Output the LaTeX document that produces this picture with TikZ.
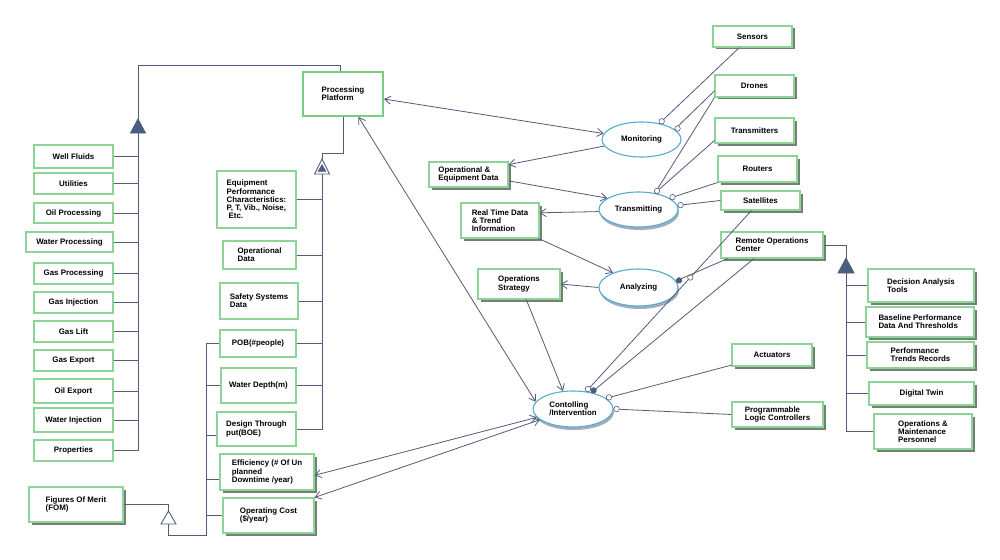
\documentclass[tikz,border=0pt]{standalone}
\usepackage{fontspec}
\setmainfont{Liberation Sans}
\usetikzlibrary{shapes.geometric,shadows,arrows.meta,calc}
\definecolor{linec}{RGB}{82,92,122}
\definecolor{boxg}{RGB}{140,212,152}
\definecolor{ppg}{RGB}{118,206,128}
\definecolor{elc}{RGB}{85,172,205}
\definecolor{shc}{RGB}{100,116,102}
\definecolor{tric}{RGB}{74,94,130}
\definecolor{elsh}{RGB}{140,152,170}
\tikzset{
  ln/.style={draw=linec, line width=0.8pt},
  bx/.style={rectangle, draw=boxg, line width=1.1pt, fill=white, inner sep=1.5pt, align=left},
  bxs/.style={bx, drop shadow={shadow xshift=2.5pt, shadow yshift=-2.5pt, fill=shc, opacity=0.9}},
  el/.style={ellipse, draw=elc, line width=1.1pt, fill=white, inner sep=0pt, align=left},
  els/.style={el, drop shadow={shadow xshift=1pt, shadow yshift=-3pt, fill=elsh, opacity=0.8}},
  ocirc/.style={circle, draw=linec, fill=white, minimum size=5.5pt, inner sep=0pt, line width=0.6pt},
  fcirc/.style={circle, draw=linec, fill=tric, minimum size=5.5pt, inner sep=0pt, line width=0.6pt},
  arr/.style={ln, -{Straight Barb[length=6pt,width=8pt]}},
  darr/.style={ln, {Straight Barb[length=6pt,width=8pt]}-{Straight Barb[length=6pt,width=8pt]}},
  tri/.style={draw=linec, line width=0.8pt, fill=tric},
  trio/.style={draw=linec, line width=0.9pt, fill=white},
}
\begin{document}
\begin{tikzpicture}[x=1pt,y=-1pt, font=\fontsize{7.9}{8.2}\selectfont\bfseries]
\useasboundingbox[fill=white] (0,0) rectangle (1000,559);

% ---- left column (parts of Processing Platform)
\node[bx, minimum width=79pt, minimum height=23pt] (wf) at (73.5,156.5) {Well Fluids};
\node[bx, minimum width=79pt, minimum height=21pt] (ut) at (73.5,183.5) {Utilities};
\node[bx, minimum width=79pt, minimum height=20pt] (op) at (73.5,213) {Oil Processing};
\node[bx, minimum width=87pt, minimum height=20pt] (wp) at (69.5,242) {Water Processing};
\node[bx, minimum width=79pt, minimum height=21pt] (gp) at (73.5,273.5) {Gas Processing};
\node[bx, minimum width=79pt, minimum height=21pt] (gi) at (73.5,302.5) {Gas Injection};
\node[bx, minimum width=79pt, minimum height=21pt] (gl) at (73.5,331.5) {Gas Lift};
\node[bx, minimum width=79pt, minimum height=21pt] (ge) at (73.5,360.5) {Gas Export};
\node[bx, minimum width=79pt, minimum height=24pt] (oe) at (73.5,391) {Oil Export};
\node[bx, minimum width=79pt, minimum height=24pt] (wi) at (73.5,420) {Water Injection};
\node[bx, minimum width=79pt, minimum height=21pt] (pr) at (73.5,450.5) {Properties};

% ---- processing platform
\node[bx, draw=ppg, line width=2pt, minimum width=80pt, minimum height=44pt] (pp) at (343,94) {Processing\\Platform};

% ---- middle column (attributes)
\node[bx, minimum width=79pt, minimum height=57pt] (epc) at (256.5,199.5) {Equipment\\Performance\\Characteristics:\\P, T, Vib., Noise,\\\hspace{2pt}Etc.};
\node[bx, minimum width=73pt, minimum height=28pt] (od) at (259.5,255) {Operational\\Data};
\node[bx, minimum width=78pt, minimum height=36pt] (ssd) at (259,301) {Safety Systems\\Data};
\node[bx, minimum width=76pt, minimum height=27pt] (pob) at (258,343.5) {POB(\#people)};
\node[bx, minimum width=75pt, minimum height=35pt] (wd) at (258.5,385.5) {Water Depth(m)};
\node[bx, minimum width=79pt, minimum height=34pt] (dt) at (256.5,429) {Design Through\\put(BOE)};
\node[bxs, minimum width=94pt, minimum height=36pt] (eff) at (267,472) {Efficiency (\# Of Un\\planned\\Downtime /year)};
\node[bxs, minimum width=91pt, minimum height=35pt] (oc) at (268.5,515.5) {Operating Cost\\(\$/year)};
\node[bxs, minimum width=94pt, minimum height=35pt] (fom) at (76,504.5) {Figures Of Merit\\(FOM)};

% ---- objects in the flow
\node[bxs, minimum width=79pt, minimum height=25pt] (oed) at (468.5,174.5) {Operational \&\\Equipment Data};
\node[bxs, minimum width=78pt, minimum height=35pt] (rtd) at (500,220.5) {Real Time Data\\\& Trend\\Information};
\node[bxs, minimum width=82pt, minimum height=30pt] (os) at (519,284) {Operations\\Strategy};

% ---- processes
\node[el, minimum width=79pt, minimum height=35pt] (mon) at (641.5,139.5) {Monitoring};
\node[els, minimum width=79pt, minimum height=35pt] (tra) at (638.5,209.5) {Transmitting};
\node[els, minimum width=79pt, minimum height=37pt] (ana) at (638.5,287.5) {Analyzing};
\node[els, minimum width=80pt, minimum height=36pt] (con) at (573,409) {Contolling\\/Intervention};

% ---- right column
\node[bxs, minimum width=79pt, minimum height=21pt] (sen) at (752.5,36.5) {Sensors};
\node[bxs, minimum width=79pt, minimum height=22pt] (dro) at (754.5,86) {Drones};
\node[bxs, minimum width=79pt, minimum height=25pt] (trm) at (754.5,130.5) {Transmitters};
\node[bxs, minimum width=79pt, minimum height=26pt] (rou) at (757.5,169) {Routers};
\node[bxs, minimum width=79pt, minimum height=19pt] (sat) at (760.5,200.5) {Satellites};
\node[bxs, minimum width=102pt, minimum height=26pt] (roc) at (772,245) {Remote Operations\\Center};
\node[bxs, minimum width=80pt, minimum height=22pt] (act) at (772,355) {Actuators};
\node[bxs, minimum width=91pt, minimum height=25pt] (plc) at (777.5,414.5) {Programmable\\Logic Controllers};
\node[bxs, minimum width=106pt, minimum height=33pt] (dat) at (921,285.5) {Decision Analysis\\Tools};
\node[bxs, minimum width=108pt, minimum height=30pt] (bpd) at (920,322) {Baseline Performance\\Data And Thresholds};
\node[bxs, minimum width=107pt, minimum height=26pt] (ptr) at (920.5,355) {Performance\\Trends Records};
\node[bxs, minimum width=105pt, minimum height=23pt] (dtw) at (921.5,393.5) {Digital Twin};
\node[bxs, minimum width=98pt, minimum height=35pt] (omp) at (923,431.5) {Operations \&\\Maintenance\\Personnel};

% ---- left aggregation tree
\coordinate (t1a) at (138,119);
\coordinate (t1b) at (138,133);
\draw[ln] ([xshift=-3pt]pp.north) -- ++(0,-6) -| (t1a);
\draw[ln] (t1b) -- (t1b |- pr.east) -- (pr.east);
\foreach \n in {wf,ut,op,wp,gp,gi,gl,ge,oe,wi} \draw[ln] (\n.east) -- (\n.east -| t1b);
\draw[tri] (t1a) -- (145.5,133) -- (130.5,133) -- cycle;

% ---- exhibition tree
\coordinate (t2a) at (322,159);
\coordinate (t2b) at (322,174);
\draw[ln] (pp.south) -- ++(0,36) -| (t2a);
\draw[ln] (t2b) -- (t2b |- dt.east) -- (dt.east);
\foreach \n in {epc,od,ssd,pob,wd} \draw[ln] (\n.east) -- (\n.east -| t2b);
\draw[trio] (t2a) -- (329.5,174) -- (314.5,174) -- cycle;
\draw[tri, line width=0.4pt] (322,164.5) -- (326,171.5) -- (318,171.5) -- cycle;

% ---- generalization tree
\coordinate (t3a) at (168.5,511);
\coordinate (t3b) at (168.5,524);
\coordinate (gb) at (206,535);
\draw[ln] (fom.east) -| (t3a);
\draw[ln] (t3b) |- (gb) -- (gb |- pob.west) -- (pob.west);
\draw[ln] (wd.west) -- (wd.west -| gb);
\draw[ln] ([yshift=-6pt]dt.west) -- ([yshift=-6pt]dt.west -| gb);
\draw[ln] ([yshift=-7pt]eff.west) -- ([yshift=-7pt]eff.west -| gb);
\draw[ln] (oc.west) -- (oc.west -| gb);
\draw[trio] (t3a) -- (176,524) -- (161,524) -- cycle;

% ---- right aggregation tree
\coordinate (t4a) at (846,258);
\coordinate (t4b) at (846,273);
\draw[ln] (roc.east) -| (t4a);
\draw[ln] (t4b) |- (omp.west);
\foreach \n in {dat,bpd,ptr,dtw} \draw[ln] (\n.west) -- (\n.west -| t4b);
\draw[tri] (t4a) -- (854,273) -- (838,273) -- cycle;

% ---- flow arrows
\draw[darr] (pp.-7) -- (mon.171);
\draw[darr] (pp.-56) -- (con.169);
\draw[darr] (eff.-4) -- (con.193);
\draw[darr] (oc.north east) -- (con.198);
\draw[arr] (mon.190) -- (oed.14);
\draw[arr] (oed.-9) -- (tra.160);
\draw[arr] (tra.183) -- (rtd.11);
\draw[arr] (rtd.-25) -- (ana.150);
\draw[arr] (ana.west) -- (os.east);
\draw[arr] (os.-65) -- (con.119);

% ---- instrument / agent links
\draw[ln] (sen.-140) -- (mon.42);
\draw[ln] (dro.-173) -- (mon.17);
\draw[ln] (dro.south west) -- (tra.45);
\draw[ln] (trm.-166) -- (tra.45);
\draw[ln] (rou.south west) -- (tra.20);
\draw[ln] (sat.west) -- (tra.6);
\draw[ln] (sat.-132) -- node[ocirc, pos=0.37] {} (con.53);
\draw[ln] (roc.-163) -- (ana.10);
\draw[ln] (roc.-143) -- (con.42);
\draw[ln] (act.-166) -- (con.18);
\draw[ln] (plc.west) -- (con.0);

\node[ocirc, anchor=222] at (mon.42) {};
\node[ocirc, anchor=197] at (mon.17) {};
\node[ocirc, anchor=225] at (tra.45) {};
\node[ocirc, anchor=200] at (tra.20) {};
\node[ocirc, anchor=186] at (tra.6) {};
\node[fcirc, anchor=190] at (ana.10) {};
\node[ocirc, anchor=233] at (con.53) {};
\node[fcirc, anchor=222] at (con.42) {};
\node[ocirc, anchor=198] at (con.18) {};
\node[ocirc, anchor=180] at (con.0) {};
\end{tikzpicture}
\end{document}
